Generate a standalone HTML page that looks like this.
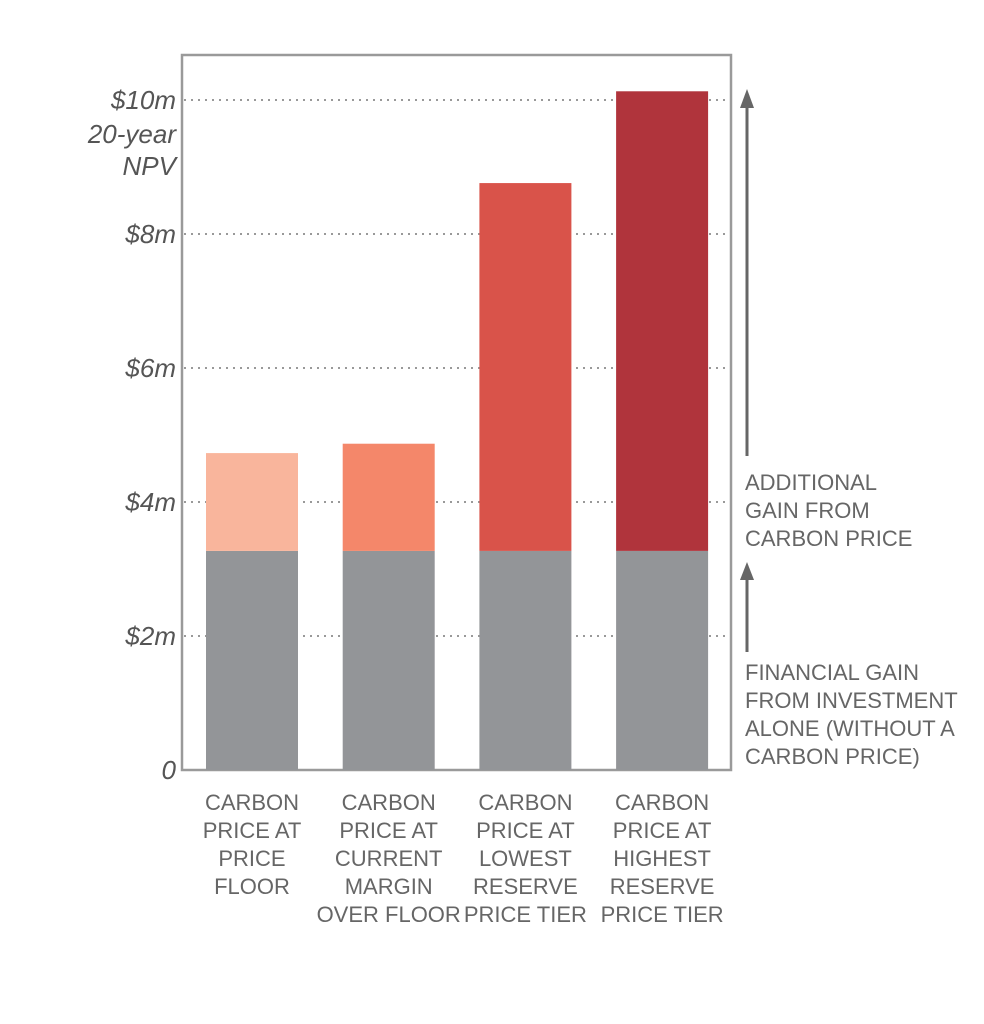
<!DOCTYPE html>
<html><head><meta charset="utf-8"><style>
html,body{margin:0;padding:0;background:#fff;}
svg{display:block;}
text{font-family:"Liberation Sans Narrow","Liberation Sans",sans-serif;}
</style></head><body>
<svg id="chart" width="984" height="1024" viewBox="0 0 984 1024" xmlns="http://www.w3.org/2000/svg">
<rect x="182" y="55" width="549" height="715" fill="none" stroke="#9a9a9a" stroke-width="2.5"/>
<g id="grid"></g>
<g id="bars"></g>
<g id="ylabels"></g>
<g id="xlabels"></g>
<text x="176" y="143" text-anchor="end" font-size="26" font-style="italic" fill="#555" font-family="Liberation Sans, sans-serif">20-year</text>
<text x="176" y="175" text-anchor="end" font-size="26" font-style="italic" fill="#555" font-family="Liberation Sans, sans-serif">NPV</text>
<g>
<line x1="747" y1="456" x2="747" y2="106" stroke="#666" stroke-width="3"/>
<polygon points="740,108 754,108 747,89" fill="#666"/>
</g>
<g>
<line x1="747" y1="652" x2="747" y2="578" stroke="#666" stroke-width="3"/>
<polygon points="740,580 754,580 747,562" fill="#666"/>
</g>
<g font-size="22" fill="#666">
<text x="745" y="490">ADDITIONAL</text>
<text x="745" y="518">GAIN FROM</text>
<text x="745" y="546">CARBON PRICE</text>
</g>
<g font-size="22" fill="#666">
<text x="745" y="680">FINANCIAL GAIN</text>
<text x="745" y="708">FROM INVESTMENT</text>
<text x="745" y="736">ALONE (WITHOUT A</text>
<text x="745" y="764">CARBON PRICE)</text>
</g>
</svg>
<script>
const categories=[["CARBON","PRICE AT","PRICE","FLOOR"],["CARBON","PRICE AT","CURRENT","MARGIN","OVER FLOOR"],["CARBON","PRICE AT","LOWEST","RESERVE","PRICE TIER"],["CARBON","PRICE AT","HIGHEST","RESERVE","PRICE TIER"]];
const baseValues=[3.27,3.27,3.27,3.27];
const totalValues=[4.73,4.87,8.76,10.13];
const colors=["#f9b59c","#f4876a","#d9534a","#b0343c"];
const yTicks=[0,2,4,6,8,10];
const yTickLabels=["0","$2m","$4m","$6m","$8m","$10m"];
const NS="http://www.w3.org/2000/svg";
function y(v){return 770-v*67;}
function x(i){return 206+i*136.7;}
const bw=92;
function mk(t,a,p){const e=document.createElementNS(NS,t);for(const k in a)e.setAttribute(k,a[k]);p.appendChild(e);return e;}
const grid=document.getElementById('grid'),bars=document.getElementById('bars'),yl=document.getElementById('ylabels'),xl=document.getElementById('xlabels');
yTicks.forEach((t,i)=>{
 if(t>0){const l=mk('line',{x1:184,x2:729,y1:y(t),y2:y(t),stroke:'#999','stroke-width':2,'stroke-dasharray':'2 5'},grid);
 
 }
 const tx=mk('text',{x:176,y:y(t)+9,'text-anchor':'end','font-size':26,'font-style':'italic',fill:'#555','font-family':'Liberation Sans, sans-serif'},yl);
 tx.textContent=yTickLabels[i];
 
 
});
categories.forEach((c,i)=>{
 const b=mk('rect',{x:x(i),y:y(baseValues[i]),width:bw,height:y(0)-y(baseValues[i]),fill:'#939598'},bars);
 
 
 const t=mk('rect',{x:x(i),y:y(totalValues[i]),width:bw,height:y(baseValues[i])-y(totalValues[i]),fill:colors[i]},bars);
 
 
 c.forEach((line,j)=>{
  const tx=mk('text',{x:x(i)+bw/2,y:810+j*28,'text-anchor':'middle','font-size':22,fill:'#666'},xl);
  tx.textContent=line;
  
  
 });
});
</script>
</body></html>
